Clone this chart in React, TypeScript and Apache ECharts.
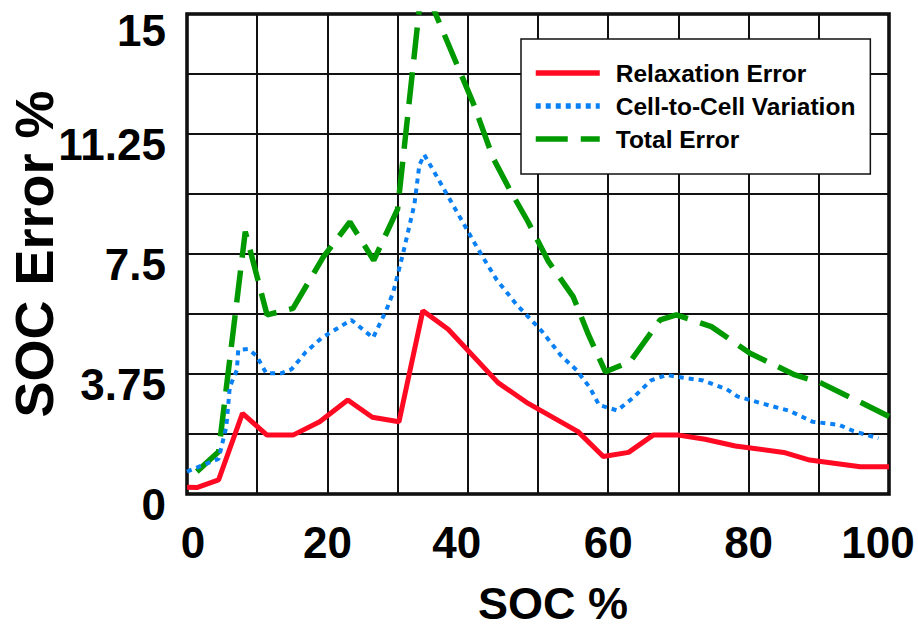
import React, { useEffect, useRef } from "react";
import * as echarts from "echarts";

const seriesNames = ["Relaxation Error", "Cell-to-Cell Variation", "Total Error"];
const seriesColors = ["#FF0A22", "#0A80F5", "#009A00"];

const relaxationError: number[][] = [
  [0, 0.21], [1.4, 0.2], [4.5, 0.44], [7.9, 2.52], [11.4, 1.84], [15.1, 1.84],
  [18.9, 2.26], [22.9, 2.94], [26.4, 2.4], [30.2, 2.26], [33.6, 5.73], [37.2, 5.15],
  [44.3, 3.48], [48.6, 2.83], [55.7, 1.95], [59.3, 1.17], [62.9, 1.3], [66.4, 1.84],
  [70, 1.84], [73.8, 1.71], [78.1, 1.5], [85, 1.3], [88.7, 1.06], [95.9, 0.85], [100, 0.85],
];

const cellVariation: number[][] = [
  [0, 0.7], [4.5, 1.1], [5.6, 2.1], [6.1, 3.35], [7.1, 3.87], [7.3, 4.5], [8.7, 4.53],
  [9.9, 4.32], [11.3, 3.77], [13.4, 3.77], [14.9, 3.9], [16.9, 4.43], [19.2, 4.88],
  [23.4, 5.44], [26.5, 4.88], [28.4, 5.75], [29.4, 6.32], [30.8, 7.54], [32.4, 9.06],
  [33.1, 10.28], [33.8, 10.6], [35.2, 10.07], [41, 7.83], [42.4, 7.31], [44.1, 6.7],
  [46.9, 5.93], [50.5, 5.1], [53.3, 4.32], [55.5, 3.87], [57.4, 3.32], [58.7, 2.78],
  [61.3, 2.61], [63.5, 3.0], [66.1, 3.55], [68.3, 3.72], [71.4, 3.61], [73.5, 3.55],
  [76.9, 3.27], [78.4, 3.05], [81.9, 2.83], [85.8, 2.6], [89.1, 2.26], [92.9, 2.16],
  [94.9, 1.97], [98.5, 1.74],
];

const totalError: number[][] = [
  [1.4, 0.7], [4.5, 1.32], [8.3, 8.2], [11.4, 5.6], [15.1, 5.8], [19.4, 7.4],
  [23.2, 8.5], [26.6, 7.3], [30, 8.9], [33.5, 16], [40.8, 12.2], [43.6, 10.5],
  [46, 9.5], [48.6, 8.5], [51.5, 7.26], [55, 6.17], [57.2, 4.97], [59.6, 3.82],
  [63.1, 4.13], [67.4, 5.44], [69.7, 5.6], [74.7, 5.23], [80.2, 4.4], [86.6, 3.72],
  [90.2, 3.48], [93.7, 3.1], [96.3, 2.83], [100, 2.42],
];

const xTickLabels = ["0", "20", "40", "60", "80", "100"];
const yTickLabels = ["0", "3.75", "7.5", "11.25", "15"];
const xTitle = "SOC %";
const yTitle = "SOC Error %";

const FONT = "'Liberation Sans', Arial, Helvetica, sans-serif";

export default function App() {
  const ref = useRef<HTMLDivElement>(null);
  useEffect(() => {
    if (!ref.current) return;
    const chart = echarts.init(ref.current, undefined, { renderer: "svg" });
    const tickStyle = {
      fontFamily: FONT,
      fontWeight: "bold" as const,
      fontSize: 44,
      color: "#000",
    };
    // small horizontal nudges of individual x tick labels (as in the reference)
    const xLabelStyleKeys = ["r", "c", "l", "c", "c", "l"];
    chart.setOption({
      animation: false,
      backgroundColor: "#fff",
      grid: {
        left: 187,
        top: 14,
        right: 29,
        bottom: 136,
        containLabel: false,
        outerBoundsMode: "none",
        show: true,
        borderColor: "#000",
        borderWidth: 3.5,
        backgroundColor: "transparent",
      },
      legend: {
        orient: "vertical",
        left: 521,
        top: 39,
        padding: [20, 15, 21, 12],
        backgroundColor: "#fff",
        borderColor: "#111",
        borderWidth: 1.5,
        itemWidth: 64,
        itemHeight: 14,
        itemGap: 5,
        itemStyle: { opacity: 0 },
        lineStyle: { width: 5.5 },
        textStyle: {
          fontFamily: FONT,
          fontWeight: "bold",
          fontSize: 24.5,
          lineHeight: 28,
          color: "#000",
          padding: [0, 0, 0, 11],
        },
        data: seriesNames,
      },
      xAxis: {
        type: "value",
        min: 0,
        max: 100,
        interval: 10,
        axisLine: { show: false },
        axisTick: { show: false },
        splitLine: { show: true, lineStyle: { color: "#111", width: 2 } },
        axisLabel: {
          margin: 26,
          ...tickStyle,
          lineHeight: 44,
          formatter: (v: number) => {
            const i = Math.round(v / 20);
            if (Math.abs(v - i * 20) > 1e-6) return "";
            const label = xTickLabels[i] ?? "";
            return `{${xLabelStyleKeys[i] ?? "c"}|${label}}`;
          },
          rich: {
            c: { ...tickStyle, lineHeight: 44 },
            r: { ...tickStyle, lineHeight: 44, padding: [0, 0, 0, 12] },
            l: { ...tickStyle, lineHeight: 44, padding: [0, 22, 0, 0] },
          },
        },
        name: xTitle,
        nameLocation: "middle",
        nameGap: 87,
        nameTextStyle: {
          fontFamily: FONT,
          fontWeight: "bold",
          fontSize: 45,
          lineHeight: 45,
          color: "#000",
          padding: [0, 0, 0, 30],
        },
      },
      yAxis: {
        type: "value",
        min: 0,
        max: 15,
        interval: 1.875,
        axisLine: { show: false },
        axisTick: { show: false },
        splitLine: { show: true, lineStyle: { color: "#111", width: 2 } },
        axisLabel: {
          margin: 21,
          verticalAlign: "top",
          ...tickStyle,
          lineHeight: 20,
          formatter: (v: number) => {
            const i = Math.round(v / 1.875);
            if (Math.abs(v - i * 1.875) > 1e-6 || i % 2 !== 0) return "";
            const k = i / 2;
            const label = yTickLabels[k] ?? "";
            return k === yTickLabels.length - 1 ? `{t|${label}}` : `{n|${label}}`;
          },
          rich: {
            t: { ...tickStyle, lineHeight: 32 },
            n: { ...tickStyle, lineHeight: 20 },
          },
        },
        name: yTitle,
        nameLocation: "middle",
        nameGap: 126,
        nameMoveOverlap: false,
        nameTextStyle: {
          fontFamily: FONT,
          fontWeight: "bold",
          fontSize: 54,
          lineHeight: 54,
          color: "#000",
        },
      },
      series: [
        {
          name: seriesNames[0],
          type: "line",
          data: relaxationError,
          symbol: "none",
          color: seriesColors[0],
          lineStyle: { color: seriesColors[0], width: 5, type: "solid" },
          z: 4,
        },
        {
          name: seriesNames[1],
          type: "line",
          data: cellVariation,
          symbol: "none",
          color: seriesColors[1],
          lineStyle: { color: seriesColors[1], width: 4, type: [5, 5], cap: "butt" },
          z: 3,
        },
        {
          name: seriesNames[2],
          type: "line",
          data: totalError,
          symbol: "none",
          color: seriesColors[2],
          lineStyle: { color: seriesColors[2], width: 5.5, type: [32, 13], cap: "butt" },
          z: 2,
        },
      ],
    });
    return () => chart.dispose();
  }, []);
  return <div ref={ref} style={{ width: 918, height: 630, position: "absolute", left: 0, top: 0 }} />;
}
